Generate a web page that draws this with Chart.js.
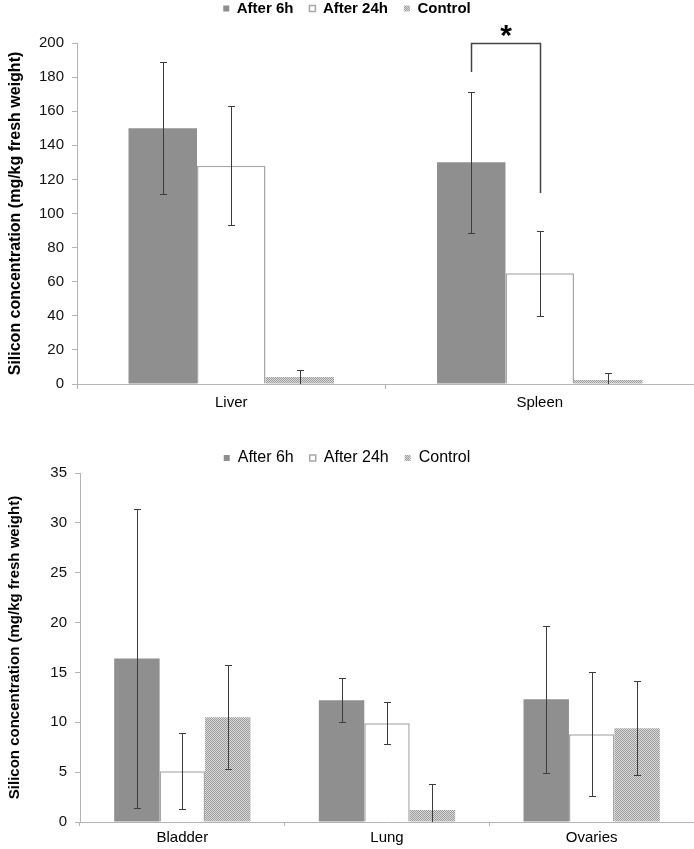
<!DOCTYPE html>
<html>
<head>
<meta charset="utf-8">
<script src="https://cdn.jsdelivr.net/npm/chart.js@4.4.0/dist/chart.umd.min.js"></script>
<style>
    html, body { margin: 0; padding: 0; background: #ffffff; }
    canvas { display: block; }
</style>
</head>
<body>
<canvas id="topChart" width="694" height="440"></canvas>
<canvas id="bottomChart" width="694" height="409"></canvas>
<script>
// 数据
const seriesNames = ['After 6h', 'After 24h', 'Control'];

const topCategories = ['Liver', 'Spleen'];
const top6h = [150, 130];
const top6hErr = [38.6, 41.3];
const top24h = [128, 65];
const top24hErr = [35, 25];
const topControl = [4.1, 2.3];
const topControlErr = [4, 4];
const topTicks = [0, 20, 40, 60, 80, 100, 120, 140, 160, 180, 200];

// 显著性标记 (Spleen: After 6h vs After 24h)
const sigCategory = 1;
const sigTop = 200;
const sigLeftEnd = 183;
const sigRightEnd = 112;
const sigLabel = '*';

const bottomCategories = ['Bladder', 'Lung', 'Ovaries'];
const bottom6h = [16.4, 12.2, 12.3];
const bottom6hErr = [15, 2.2, 7.4];
const bottom24h = [5.1, 9.9, 8.8];
const bottom24hErr = [3.8, 2.1, 6.2];
const bottomControl = [10.5, 1.2, 9.4];
const bottomControlErr = [5.2, 2.6, 4.7];
const bottomTicks = [0, 5, 10, 15, 20, 25, 30, 35];

const yTitle = 'Silicon concentration (mg/kg fresh weight)';

const axisGray = '#b4b4b4';
const barGray = '#8f8f8f';
const errColor = '#3c3c3c';
const baseFont = "'Liberation Sans', Arial, sans-serif";

// 细斜纹填充
function makeHatch() {
    const c = document.createElement('canvas');
    c.width = 4;
    c.height = 4;
    const g = c.getContext('2d');
    g.fillStyle = '#dadada';
    g.fillRect(0, 0, 4, 4);
    g.fillStyle = '#9c9c9c';
    for (let y = 0; y < 4; y++) {
        for (let x = 0; x < 4; x++) {
            if ((x + y) % 2 === 0) g.fillRect(x, y, 1, 1);
        }
    }
    return g.createPattern(c, 'repeat');
}
const hatch = makeHatch();

// 误差线
const errorBarPlugin = {
    id: 'errorBars',
    afterDatasetsDraw(chart) {
        const ctx = chart.ctx;
        const yScale = chart.scales.y;
        const area = chart.chartArea;
        ctx.save();
        ctx.beginPath();
        ctx.rect(area.left, area.top - 2, area.right - area.left, area.bottom - area.top + 2);
        ctx.clip();
        ctx.strokeStyle = errColor;
        ctx.lineWidth = 1;
        chart.data.datasets.forEach((ds, di) => {
            const meta = chart.getDatasetMeta(di);
            meta.data.forEach((bar, i) => {
                const v = ds.data[i];
                const e = ds.errors[i];
                const x = Math.round(bar.x) + 0.5;
                const yHi = Math.round(yScale.getPixelForValue(v + e)) + 0.5;
                const yLo = Math.round(yScale.getPixelForValue(v - e)) + 0.5;
                ctx.beginPath();
                ctx.moveTo(x, yHi);
                ctx.lineTo(x, yLo);
                ctx.moveTo(x - 3.5, yHi);
                ctx.lineTo(x + 3.5, yHi);
                ctx.moveTo(x - 3.5, yLo);
                ctx.lineTo(x + 3.5, yLo);
                ctx.stroke();
            });
        });
        ctx.restore();
    }
};

// 显著性括号
const sigPlugin = {
    id: 'sigBracket',
    afterDatasetsDraw(chart) {
        const ctx = chart.ctx;
        const yScale = chart.scales.y;
        const xL = Math.round(chart.getDatasetMeta(0).data[sigCategory].x) + 0.5;
        const xR = Math.round(chart.getDatasetMeta(1).data[sigCategory].x) + 0.5;
        const yTop = Math.round(yScale.getPixelForValue(sigTop)) + 0.5;
        ctx.save();
        ctx.strokeStyle = '#444444';
        ctx.lineWidth = 1.5;
        ctx.beginPath();
        ctx.moveTo(xL, yScale.getPixelForValue(sigLeftEnd));
        ctx.lineTo(xL, yTop);
        ctx.lineTo(xR, yTop);
        ctx.lineTo(xR, yScale.getPixelForValue(sigRightEnd));
        ctx.stroke();
        ctx.fillStyle = '#000000';
        ctx.font = 'bold 30px ' + baseFont;
        ctx.textAlign = 'center';
        ctx.textBaseline = 'alphabetic';
        ctx.fillText(sigLabel, (xL + xR) / 2, yTop + 1);
        ctx.restore();
    }
};

// 固定图例高度与位置
function fixedLegend(height, shift) {
    return {
        id: 'fixedLegend',
        beforeInit(chart) {
            const legend = chart.legend;
            const fit = legend.fit;
            legend.fit = function () {
                fit.call(this);
                this.height = height;
            };
            const draw = legend.draw;
            legend.draw = function () {
                this.ctx.save();
                this.ctx.translate(0, shift);
                draw.call(this);
                this.ctx.restore();
            };
        }
    };
}

function makeDatasets(v6, e6, v24, e24, vc, ec) {
    return [{
        label: seriesNames[0],
        data: v6,
        errors: e6,
        backgroundColor: barGray,
        borderColor: barGray,
        borderWidth: 0
    }, {
        label: seriesNames[1],
        data: v24,
        errors: e24,
        backgroundColor: '#ffffff',
        borderColor: '#a8a8a8',
        borderWidth: 1.5
    }, {
        label: seriesNames[2],
        data: vc,
        errors: ec,
        backgroundColor: hatch,
        borderColor: '#bdbdbd',
        borderWidth: 0
    }];
}

function makeChart(canvasId, opts) {
    return new Chart(document.getElementById(canvasId), {
        type: 'bar',
        data: {
            labels: opts.labels,
            datasets: opts.datasets
        },
        options: {
            responsive: false,
            animation: false,
            layout: { padding: 0 },
            datasets: {
                bar: {
                    categoryPercentage: 0.666,
                    barPercentage: 1,
                    borderSkipped: 'start'
                }
            },
            plugins: {
                legend: {
                    position: 'top',
                    labels: {
                        color: '#000000',
                        boxWidth: 6,
                        boxHeight: 6,
                        padding: 16,
                        font: { family: baseFont, size: opts.legendSize, weight: opts.legendWeight }
                    }
                },
                tooltip: { enabled: false }
            },
            scales: {
                x: {
                    grid: {
                        offset: true,
                        drawOnChartArea: false,
                        color: axisGray,
                        tickLength: opts.xTickLength
                    },
                    border: { color: axisGray, width: 1 },
                    ticks: {
                        color: '#000000',
                        padding: opts.xPadding,
                        font: { family: baseFont, size: 15 }
                    },
                    afterFit(scale) { scale.height = opts.xHeight; }
                },
                y: {
                    min: opts.ticks[0],
                    max: opts.ticks[opts.ticks.length - 1],
                    afterBuildTicks(scale) {
                        scale.ticks = opts.ticks.map(v => ({ value: v }));
                    },
                    grid: {
                        drawOnChartArea: false,
                        color: axisGray,
                        tickLength: 5
                    },
                    border: { color: axisGray, width: 1 },
                    ticks: {
                        color: '#111111',
                        padding: 8,
                        font: { family: baseFont, size: 15 }
                    },
                    title: {
                        display: true,
                        text: yTitle,
                        color: '#000000',
                        padding: { top: 6, bottom: 0 },
                        font: { family: baseFont, size: opts.titleSize, weight: 'bold' }
                    },
                    afterFit(scale) { scale.width = opts.yWidth; }
                }
            }
        },
        plugins: opts.plugins
    });
}

makeChart('topChart', {
    labels: topCategories,
    datasets: makeDatasets(top6h, top6hErr, top24h, top24hErr, topControl, topControlErr),
    ticks: topTicks,
    legendWeight: 'bold',
    legendSize: 15,
    titleSize: 16,
    xTickLength: 5,
    xPadding: 5,
    xHeight: 56,
    yWidth: 77,
    plugins: [fixedLegend(43, -15), errorBarPlugin, sigPlugin]
});

makeChart('bottomChart', {
    labels: bottomCategories,
    datasets: makeDatasets(bottom6h, bottom6hErr, bottom24h, bottom24hErr, bottomControl, bottomControlErr),
    ticks: bottomTicks,
    legendWeight: 'normal',
    legendSize: 16,
    titleSize: 15,
    xTickLength: 4,
    xPadding: 3,
    xHeight: 27,
    yWidth: 80,
    plugins: [fixedLegend(33, -6), errorBarPlugin]
});
</script>
</body>
</html>
